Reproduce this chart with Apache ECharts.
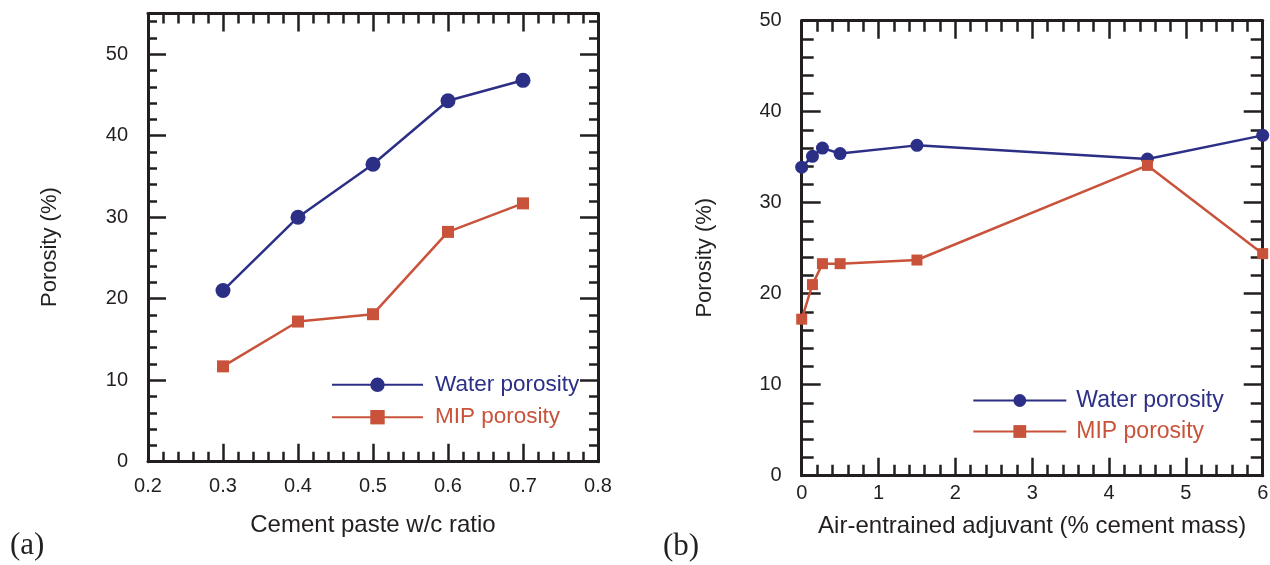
<!DOCTYPE html>
<html>
<head>
<meta charset="utf-8">
<script src="https://cdn.jsdelivr.net/npm/echarts@6/dist/echarts.min.js"></script>
<style>
html,body{margin:0;padding:0;background:#fff;}
#chart{width:1270px;height:565px;}
</style>
</head>
<body>
<div id="chart"></div>
<script>
// ---- data ----
const wcRatio = [0.3, 0.4, 0.5, 0.6, 0.7];
const waterPorosityA = [21.0, 30.0, 36.5, 44.3, 46.8];
const mipPorosityA = [11.7, 17.2, 18.1, 28.2, 31.7];

const adjuvant = [0, 0.14, 0.27, 0.5, 1.5, 4.5, 6];
const waterPorosityB = [33.9, 35.1, 36.0, 35.4, 36.3, 34.8, 37.4];
const mipPorosityB = [17.2, 21.0, 23.3, 23.3, 23.7, 34.1, 24.4];

const seriesNames = ['Water porosity', 'MIP porosity'];
const axisNamesA = ['Cement paste w/c ratio', 'Porosity (%)'];
const axisNamesB = ['Air-entrained adjuvant (% cement mass)', 'Porosity (%)'];
const panelLabels = ['(a)', '(b)'];

// ---- styles ----
const BLUE = '#2c2f86';
const RED = '#c9533a';
const INK = '#231f20';
const FONT = '"Liberation Sans", Arial, Helvetica, sans-serif';

function pairs(xs, ys) { return xs.map((x, i) => [x, ys[i]]); }

function axisBase(extra) {
  return Object.assign({
    type: 'value',
    axisLine: { show: true, onZero: false, lineStyle: { color: INK, width: 3 } },
    splitLine: { show: false },
    axisLabel: { show: false },
    axisTick: { show: true, inside: true, length: 18, lineStyle: { color: INK, width: 2.5 } }
  }, extra);
}
const labelStyle = { show: true, color: INK, fontSize: 20, fontFamily: FONT };
const nameStyleX = { color: INK, fontSize: 24, fontFamily: FONT };
const nameStyleY = { color: INK, fontSize: 22, fontFamily: FONT };

const option = {
  animation: false,
  backgroundColor: '#fff',
  grid: [
    { left: 148, top: 13.5, width: 450, height: 448.2, outerBoundsMode: 'none', containLabel: false },
    { left: 801.7, top: 20.7, width: 461, height: 455, outerBoundsMode: 'none', containLabel: false }
  ],
  xAxis: [
    axisBase({ gridIndex: 0, position: 'bottom', min: 0.2, max: 0.8, interval: 0.1,
      axisLabel: Object.assign({}, labelStyle, { margin: 15, formatter: v => v.toFixed(1) }),
      minorTick: { show: true, splitNumber: 5, length: 10, lineStyle: { color: INK, width: 2.5 } },
      name: axisNamesA[0], nameLocation: 'middle', nameGap: 52, nameTextStyle: nameStyleX }),
    axisBase({ gridIndex: 0, position: 'top', min: 0.2, max: 0.8, interval: 0.1,
      minorTick: { show: true, splitNumber: 5, length: 10, lineStyle: { color: INK, width: 2.5 } } }),
    axisBase({ gridIndex: 1, position: 'bottom', min: 0, max: 6, interval: 1,
      axisLabel: Object.assign({}, labelStyle, { margin: 8 }),
      minorTick: { show: true, splitNumber: 5, length: 11, lineStyle: { color: INK, width: 2.5 } },
      name: axisNamesB[0], nameLocation: 'middle', nameGap: 38.5, nameTextStyle: nameStyleX }),
    axisBase({ gridIndex: 1, position: 'top', min: 0, max: 6, interval: 1,
      minorTick: { show: true, splitNumber: 5, length: 11, lineStyle: { color: INK, width: 2.5 } } })
  ],
  yAxis: [
    axisBase({ gridIndex: 0, position: 'left', min: 0, max: 55, interval: 10,
      axisLabel: Object.assign({}, labelStyle, { margin: 20, showMaxLabel: false, padding: [0, 0, 6, 0] }),
      name: axisNamesA[1], nameLocation: 'middle', nameGap: 87,
      nameTextStyle: Object.assign({}, nameStyleY, { padding: [0, 19, 0, 0] }) }),
    axisBase({ gridIndex: 0, position: 'left', min: 0, max: 55, interval: 2,
      axisLine: { show: false, onZero: false }, axisTick: { show: true, inside: true, length: 9, lineStyle: { color: INK, width: 2.5 } } }),
    axisBase({ gridIndex: 0, position: 'right', min: 0, max: 55, interval: 10 }),
    axisBase({ gridIndex: 0, position: 'right', min: 0, max: 55, interval: 2,
      axisLine: { show: false, onZero: false }, axisTick: { show: true, inside: true, length: 9, lineStyle: { color: INK, width: 2.5 } } }),
    axisBase({ gridIndex: 1, position: 'left', min: 0, max: 50, interval: 10,
      axisTick: { show: true, inside: true, length: 19, lineStyle: { color: INK, width: 2.5 } },
      minorTick: { show: true, splitNumber: 5, length: 12, lineStyle: { color: INK, width: 2.5 } },
      axisLabel: Object.assign({}, labelStyle, { margin: 20, padding: [0, 0, 6, 0] }),
      name: axisNamesB[1], nameLocation: 'middle', nameGap: 86,
      nameTextStyle: Object.assign({}, nameStyleY, { padding: [0, 19, 0, 0] }) }),
    axisBase({ gridIndex: 1, position: 'right', min: 0, max: 50, interval: 10,
      axisTick: { show: true, inside: true, length: 19, lineStyle: { color: INK, width: 2.5 } },
      minorTick: { show: true, splitNumber: 5, length: 12, lineStyle: { color: INK, width: 2.5 } } })
  ],
  legend: [
    {
      left: 331, top: 373.3, padding: 0, orient: 'vertical', itemWidth: 91, itemHeight: 18, itemGap: 9.4,
      textStyle: { fontSize: 22.5, fontFamily: FONT, lineHeight: 22, padding: [0, 0, 0, 7] },
      data: [
        { name: seriesNames[0], textStyle: { color: BLUE } },
        { name: seriesNames[1], textStyle: { color: RED } }
      ],
      selectedMode: false
    },
    {
      left: 972.3, top: 389, padding: 0, orient: 'vertical', itemWidth: 93, itemHeight: 16, itemGap: 8,
      textStyle: { fontSize: 23, fontFamily: FONT, lineHeight: 22, padding: [0, 0, 0, 5] },
      data: [
        { name: seriesNames[0], textStyle: { color: BLUE } },
        { name: seriesNames[1], textStyle: { color: RED } }
      ],
      selectedMode: false
    }
  ],
  series: [
    { name: seriesNames[0], type: 'line', xAxisIndex: 0, yAxisIndex: 0, data: pairs(wcRatio, waterPorosityA),
      symbol: 'circle', symbolSize: 15, clip: false, z: 5,
      lineStyle: { color: BLUE, width: 2.5 }, itemStyle: { color: BLUE } },
    { name: seriesNames[1], type: 'line', xAxisIndex: 0, yAxisIndex: 0, data: pairs(wcRatio, mipPorosityA),
      symbol: 'rect', symbolSize: 12, clip: false, z: 5,
      lineStyle: { color: RED, width: 2.5 }, itemStyle: { color: RED } },
    { name: seriesNames[0], type: 'line', xAxisIndex: 2, yAxisIndex: 4, data: pairs(adjuvant, waterPorosityB),
      symbol: 'circle', symbolSize: 13, clip: false, z: 5,
      lineStyle: { color: BLUE, width: 2.5 }, itemStyle: { color: BLUE } },
    { name: seriesNames[1], type: 'line', xAxisIndex: 2, yAxisIndex: 4, data: pairs(adjuvant, mipPorosityB),
      symbol: 'rect', symbolSize: 11, clip: false, z: 5,
      lineStyle: { color: RED, width: 2.5 }, itemStyle: { color: RED } }
  ],
  graphic: [
    { type: 'text', left: 10, top: 530, style: { text: panelLabels[0], fontSize: 31, fontFamily: '"Liberation Serif", "Times New Roman", serif', fill: INK } },
    { type: 'text', left: 663, top: 531, style: { text: panelLabels[1], fontSize: 31, fontFamily: '"Liberation Serif", "Times New Roman", serif', fill: INK } }
  ]
};

const chart = echarts.init(document.getElementById('chart'), null, { renderer: 'canvas' });
chart.setOption(option);
</script>
</body>
</html>
